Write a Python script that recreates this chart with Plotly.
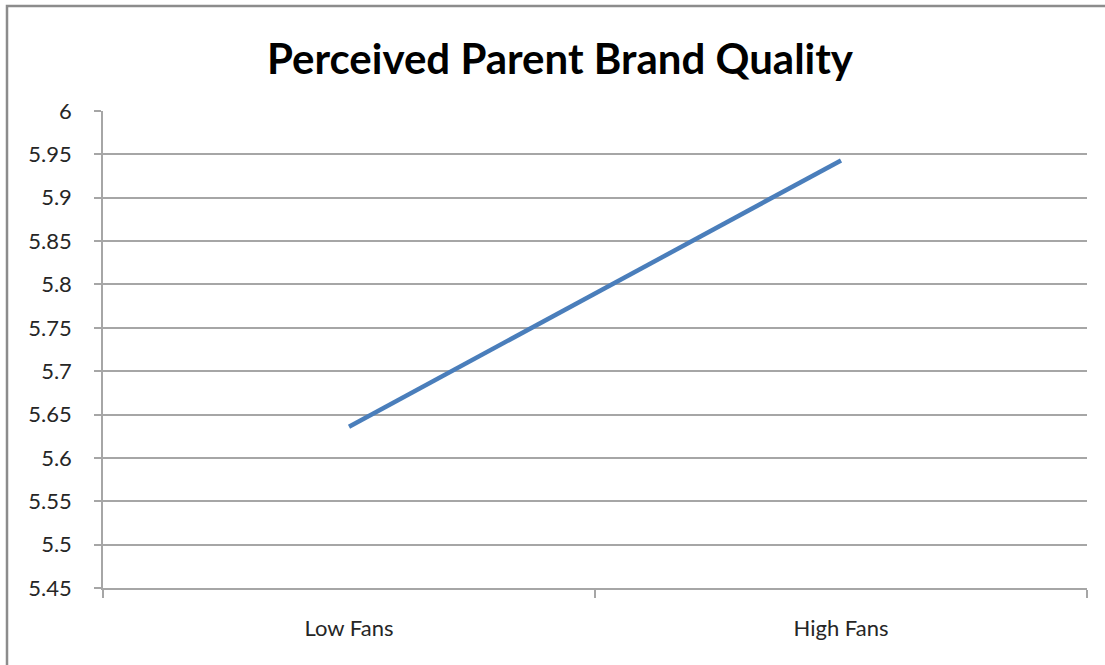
import plotly.graph_objects as go

# Chart data
categories = ["Low Fans", "High Fans"]
quality = [5.636, 5.943]
y_ticks = [5.45, 5.5, 5.55, 5.6, 5.65, 5.7, 5.75, 5.8, 5.85, 5.9, 5.95, 6.0]
y_tick_text = ["5.45", "5.5", "5.55", "5.6", "5.65", "5.7", "5.75", "5.8", "5.85", "5.9", "5.95", "6"]

W, H = 1105, 665
L, R, T, B = 103, 18, 111, 77
pw, ph = W - L - R, H - T - B

grid = "#a6a6a6"
font = "Lato, 'Noto Sans', sans-serif"
label_color = "#262626"

fig = go.Figure(
    go.Scatter(
        x=categories,
        y=quality,
        mode="lines",
        line=dict(color="#4a7ebb", width=4.5),
        hoverinfo="x+y",
    )
)

fig.update_layout(
    width=W,
    height=H,
    margin=dict(l=L, r=R, t=T, b=B),
    paper_bgcolor="white",
    plot_bgcolor="white",
    showlegend=False,
    title=dict(
        text="<b>Perceived Parent Brand Quality</b>",
        x=(560 - L) / pw,
        xref="paper",
        xanchor="center",
        y=1 - 59 / H,
        yanchor="middle",
        font=dict(family=font, size=42, color="#000000"),
    ),
    font=dict(family=font, size=22, color=label_color),
)

fig.update_xaxes(
    type="category",
    range=[-0.5, 1.5],
    tickson="boundaries",
    ticks="outside",
    ticklen=8,
    tickwidth=1.5,
    tickcolor=grid,
    tickfont=dict(family=font, size=22, color=label_color),
    showgrid=False,
    showline=True,
    linecolor=grid,
    linewidth=1.5,
    ticklabelstandoff=20,
    zeroline=False,
    fixedrange=True,
)

fig.update_yaxes(
    range=[5.45, 6.0],
    tickmode="array",
    tickvals=y_ticks,
    ticktext=y_tick_text,
    ticks="outside",
    ticklen=7,
    tickwidth=1.5,
    tickcolor=grid,
    tickfont=dict(family=font, size=22, color=label_color),
    showgrid=True,
    gridcolor=grid,
    gridwidth=1.5,
    showline=True,
    linecolor=grid,
    linewidth=1.5,
    ticklabelstandoff=18,
    automargin=False,
    zeroline=False,
    fixedrange=True,
)

# Outer chart frame: only its top and left edges fall inside the page
fx0 = (7 - L) / pw
fy1 = (H - B - 6) / ph
fig.add_shape(
    type="path",
    xref="paper",
    yref="paper",
    path=f"M {fx0},-0.3 L {fx0},{fy1} L 1.1,{fy1}",
    line=dict(color="#8c8c8c", width=2.5),
    layer="above",
)

fig.write_html("out.html")
